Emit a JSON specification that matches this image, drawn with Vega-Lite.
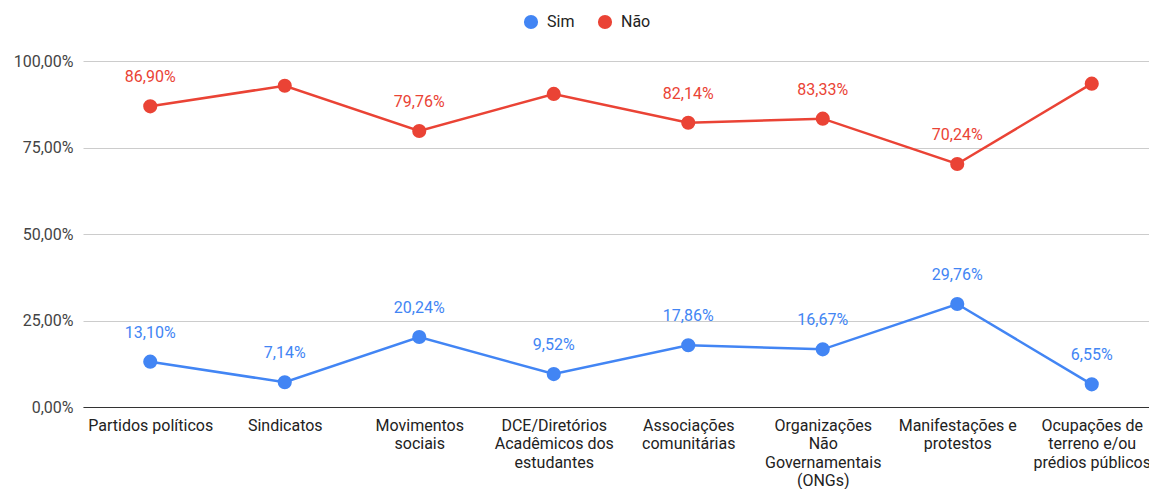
{
  "$schema": "https://vega.github.io/schema/vega-lite/v6.json",
  "width": 1076,
  "height": 346,
  "padding": {"left": 13, "top": 14, "right": 0, "bottom": 0},
  "config": {
    "font": "Roboto",
    "view": {"stroke": null},
    "locale": {"number": {"decimal": ",", "thousands": ".", "grouping": [3], "currency": ["R$", ""]}}
  },
  "data": {
    "values": [
      {"categoria": "Partidos políticos", "serie": "Sim", "valor": 0.1310},
      {"categoria": "Sindicatos", "serie": "Sim", "valor": 0.0714},
      {"categoria": "Movimentos sociais", "serie": "Sim", "valor": 0.2024},
      {"categoria": "DCE/Diretórios Acadêmicos dos estudantes", "serie": "Sim", "valor": 0.0952},
      {"categoria": "Associações comunitárias", "serie": "Sim", "valor": 0.1786},
      {"categoria": "Organizações Não Governamentais (ONGs)", "serie": "Sim", "valor": 0.1667},
      {"categoria": "Manifestações e protestos", "serie": "Sim", "valor": 0.2976},
      {"categoria": "Ocupações de terreno e/ou prédios públicos", "serie": "Sim", "valor": 0.0655},
      {"categoria": "Partidos políticos", "serie": "Não", "valor": 0.8690},
      {"categoria": "Sindicatos", "serie": "Não", "valor": 0.9286},
      {"categoria": "Movimentos sociais", "serie": "Não", "valor": 0.7976},
      {"categoria": "DCE/Diretórios Acadêmicos dos estudantes", "serie": "Não", "valor": 0.9048},
      {"categoria": "Associações comunitárias", "serie": "Não", "valor": 0.8214},
      {"categoria": "Organizações Não Governamentais (ONGs)", "serie": "Não", "valor": 0.8333},
      {"categoria": "Manifestações e protestos", "serie": "Não", "valor": 0.7024},
      {"categoria": "Ocupações de terreno e/ou prédios públicos", "serie": "Não", "valor": 0.9345}
    ]
  },
  "encoding": {
    "x": {
      "field": "categoria",
      "type": "nominal",
      "sort": null,
      "scale": {"type": "point", "padding": 0.5},
      "axis": {
        "title": null,
        "labelAngle": 0,
        "labelFontSize": 16,
        "labelColor": "#222222",
        "labelLineHeight": 18.5,
        "labelBaseline": "top",
        "labelPadding": 10,
        "labelOverlap": false,
        "labelFlush": false,
        "labelBound": false,
        "ticks": false,
        "grid": false,
        "domainColor": "#333333",
        "domainWidth": 1.2,
        "labelExpr": "datum.label == 'Movimentos sociais' ? ['Movimentos','sociais'] : datum.label == 'DCE/Diretórios Acadêmicos dos estudantes' ? ['DCE/Diretórios','Acadêmicos dos','estudantes'] : datum.label == 'Associações comunitárias' ? ['Associações','comunitárias'] : datum.label == 'Organizações Não Governamentais (ONGs)' ? ['Organizações','Não','Governamentais','(ONGs)'] : datum.label == 'Manifestações e protestos' ? ['Manifestações e','protestos'] : datum.label == 'Ocupações de terreno e/ou prédios públicos' ? ['Ocupações de','terreno e/ou','prédios públicos'] : datum.label"
      }
    },
    "y": {
      "field": "valor",
      "type": "quantitative",
      "scale": {"domain": [0, 1], "nice": false},
      "axis": {
        "title": null,
        "values": [0, 0.25, 0.5, 0.75, 1],
        "format": ".2%",
        "labelFontSize": 16,
        "labelColor": "#444444",
        "labelPadding": 10,
        "ticks": false,
        "domain": false,
        "gridColor": "#cccccc"
      }
    },
    "color": {
      "field": "serie",
      "type": "nominal",
      "scale": {"domain": ["Sim", "Não"], "range": ["#4285F4", "#EA4335"]},
      "legend": {
        "title": null,
        "orient": "none",
        "legendX": 440,
        "legendY": -47,
        "direction": "horizontal",
        "symbolType": "circle",
        "symbolSize": 200,
        "symbolStrokeWidth": 0,
        "labelFontSize": 16,
        "labelColor": "#222222",
        "labelOffset": 8,
        "columnPadding": 22
      }
    }
  },
  "layer": [
    {"mark": {"type": "line", "strokeWidth": 2.5}},
    {"mark": {"type": "circle", "size": 200, "opacity": 1}},
    {
      "transform": [{"filter": "datum.serie == 'Sim' || datum.valor < 0.9"}],
      "mark": {"type": "text", "dy": -29, "fontSize": 16, "baseline": "middle"},
      "encoding": {"text": {"field": "valor", "type": "quantitative", "format": ".2%"}}
    }
  ]
}
